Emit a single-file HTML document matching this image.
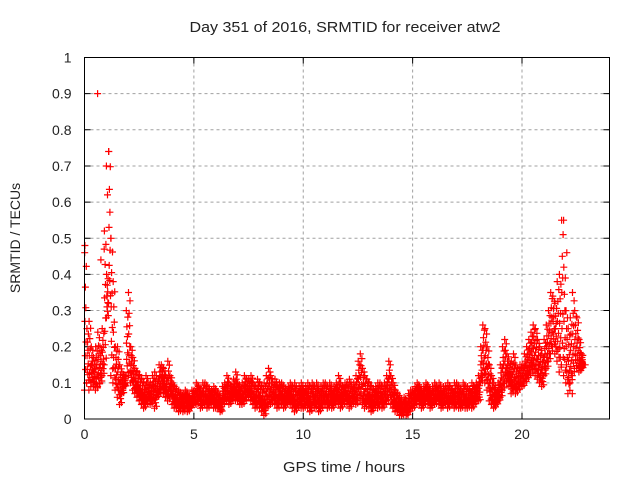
<!DOCTYPE html>
<html><head><meta charset="utf-8"><style>
body{margin:0;background:#fff;}
svg{display:block;font-family:"Liberation Sans",sans-serif;}
</style></head><body>
<svg id="chart" width="640" height="480">
<text x="345" y="32" text-anchor="middle" font-size="15" fill="#222" textLength="311" lengthAdjust="spacingAndGlyphs">Day 351 of 2016, SRMTID for receiver atw2</text>
<text x="344" y="472" text-anchor="middle" font-size="15" fill="#222" textLength="122" lengthAdjust="spacingAndGlyphs">GPS time / hours</text>
<text transform="translate(20,238) rotate(-90)" text-anchor="middle" font-size="14" fill="#222">SRMTID / TECUs</text>
<g id="grid"></g>
<g id="axes"></g>
<g id="points"></g>
<rect x="84.5" y="57.5" width="525" height="361.5" fill="none" stroke="#000" stroke-width="1"/>
</svg>
<script>
const xTicks=[0,5,10,15,20];
const yTicks=[0,0.1,0.2,0.3,0.4,0.5,0.6,0.7,0.8,0.9,1];
const yTickLabels=["0","0.1","0.2","0.3","0.4","0.5","0.6","0.7","0.8","0.9","1"];
const tStart=0, tStep=0.1;
const hiValues=[.46,.25,.27,.2,.17, .2,.24,.2,.25,.52, .4,.74,.5,.38,.2, .2,.15,.13,.12,.3, .35,.2,.17,.14,.13, .12,.11,.1,.12,.1, .1,.12,.13,.11,.15, .15,.14,.12,.16,.12, .1,.09,.08,.08,.07, .07,.08,.07,.06,.08, .08,.1,.09,.08,.1, .1,.09,.08,.08,.09, .08,.07,.06,.09,.1, .12,.1,.09,.11,.13, .1,.09,.1,.12,.11, .11,.12,.1,.09,.11, .1,.09,.1,.12,.14, .12,.1,.11,.09,.1, .1,.09,.08,.09,.1, .09,.1,.08,.09,.1, .08,.09,.1,.09,.1, .09,.1,.08,.09,.1, .1,.09,.1,.08,.09, .1,.12,.1,.09,.1, .1,.11,.09,.1,.12, .16,.18,.14,.12,.11, .1,.09,.08,.09,.1, .1,.09,.1,.12,.16, .12,.1,.08,.07,.06, .05,.06,.05,.07,.08, .08,.09,.1,.09,.08, .09,.1,.09,.08,.09, .1,.09,.1,.08,.09, .09,.1,.09,.08,.1, .1,.09,.08,.1,.09, .09,.08,.1,.09,.1, .12,.2,.26,.25,.2, .15,.12,.1,.08,.1, .15,.2,.22,.18,.16, .16,.18,.15,.14,.15, .15,.18,.2,.22,.24, .26,.25,.22,.2,.18, .22,.26,.3,.35,.34, .32,.38,.4,.55,.42, .3,.25,.28,.35,.3, .28,.22,.18,.15];
const loValues=[.08,.1,.08,.1,.09, .08,.09,.1,.12,.15, .28,.32,.12,.1,.08, .06,.04,.07,.09,.12, .12,.1,.08,.07,.06, .05,.04,.03,.04,.05, .04,.05,.03,.06,.07, .08,.07,.06,.05,.06, .04,.03,.03,.02,.03, .02,.03,.02,.03,.04, .04,.04,.05,.03,.04, .04,.03,.04,.05,.03, .03,.03,.02,.04,.05, .05,.04,.05,.06,.05, .05,.04,.04,.05,.06, .06,.05,.04,.03,.04, .03,.02,.01,.03,.04, .04,.05,.04,.03,.05, .04,.03,.04,.05,.04, .03,.02,.03,.04,.03, .03,.04,.03,.02,.04, .03,.04,.02,.03,.04, .04,.03,.04,.03,.04, .05,.04,.03,.04,.05, .04,.03,.04,.05,.04, .06,.05,.04,.03,.04, .03,.02,.03,.04,.03, .04,.03,.04,.05,.06, .04,.03,.02,.02,.01, .01,.02,.01,.02,.03, .03,.04,.05,.04,.03, .04,.05,.04,.03,.04, .04,.05,.04,.03,.04, .04,.03,.04,.04,.03, .04,.03,.03,.04,.03, .03,.04,.03,.04,.05, .05,.1,.12,.1,.08, .05,.04,.03,.04,.05, .06,.08,.1,.1,.09, .07,.08,.07,.08,.09, .09,.1,.11,.12,.13, .13,.12,.11,.1,.09, .12,.14,.16,.18,.2, .18,.16,.13,.15,.12, .1,.07,.1,.12,.14, .14,.13,.14,.15];
const outlierTimes=[0.6,1.0,1.05,1.1,0.75,0.9,1.2,0.02,21.9,22.05,22.3];
const outlierValues=[.9,.7,.62,.74,.44,.47,.5,.48,.55,.46,.07];

const NS="http://www.w3.org/2000/svg";
const L=84.5,R=609.5,T=57.5,B=419;
function xs(t){return L+(t/24)*(R-L);}
function ys(v){return B-v*(B-T);}
const grid=document.getElementById('grid'),axes=document.getElementById('axes'),pts=document.getElementById('points');
function mk(tag,attrs,parent){const e=document.createElementNS(NS,tag);for(const k in attrs)e.setAttribute(k,attrs[k]);parent.appendChild(e);return e;}
yTicks.forEach((v,i)=>{
  const y=ys(v);
  if(i>0&&i<yTicks.length-1){const g=mk('line',{x1:L,x2:R,y1:y,y2:y,stroke:'#a0a0a0','stroke-dasharray':'3,3'},grid);
  
  }
  const tk=mk('path',{d:`M${L},${y}h6M${R},${y}h-6`,stroke:'#000'},axes);
  
  
  const tx=mk('text',{x:L-13,y:y+5,'text-anchor':'end','font-size':'14',fill:'#222'},axes);
  tx.textContent=yTickLabels[i];
  
  
});
xTicks.forEach(t=>{
  const x=xs(t);
  if(t>0){const g=mk('line',{x1:x,x2:x,y1:T,y2:B,stroke:'#a0a0a0','stroke-dasharray':'3,3'},grid);
  
  }
  const tk=mk('path',{d:`M${x},${B}v-6M${x},${T}v6`,stroke:'#000'},axes);
  
  
  const tx=mk('text',{x:x,y:B+20,'text-anchor':'middle','font-size':'14',fill:'#222'},axes);
  tx.textContent=String(t);
  
  
});
let d='';
function plus(t,v){const x=xs(t),y=ys(v);d+=`M${(x-3.5).toFixed(1)},${y.toFixed(1)}h7M${x.toFixed(1)},${(y-3.5).toFixed(1)}v7`;}
const mixW=[0,1,0.5,0.25,0.75,0.15,0.6,0.35,0.9,0.05];
hiValues.forEach((v,i)=>{const t=tStart+i*tStep;const lo=loValues[i];
  mixW.forEach((w,k)=>plus(t+k*tStep/mixW.length,lo+(v-lo)*w));});
outlierTimes.forEach((t,i)=>plus(t,outlierValues[i]));
const p=mk('path',{d:d,stroke:'#ff0000','stroke-width':'1.2',fill:'none'},pts);


</script>
</body></html>
